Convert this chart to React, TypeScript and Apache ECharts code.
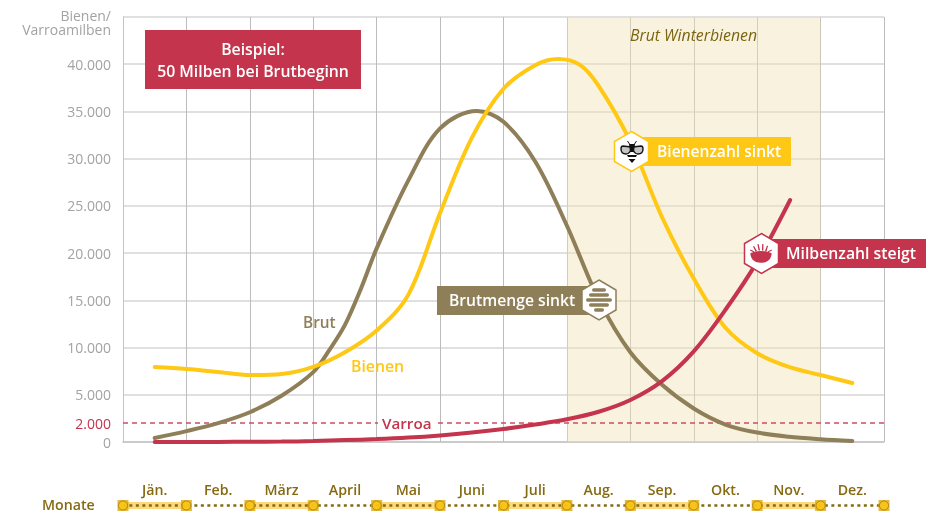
import React, { useEffect, useRef } from "react";
import * as echarts from "echarts";

const months = ["Jän.", "Feb.", "März", "April", "Mai", "Juni", "Juli", "Aug.", "Sep.", "Okt.", "Nov.", "Dez."];
const yTickLabels = ["0", "5.000", "10.000", "15.000", "20.000", "25.000", "30.000", "35.000", "40.000", ""];

// [month position, value]
const brut = [[0.5, 420], [1, 1150], [1.5, 2000], [2, 3150], [2.5, 4900], [3, 7400], [3.25, 9700], [3.5, 12400], [3.75, 16200], [4, 20500], [4.5, 27700], [5, 33200], [5.58, 35050], [6, 33900], [6.5, 29700], [7, 22900], [7.5, 15100], [8, 9500], [8.5, 6050], [9, 3550], [9.5, 1850], [10, 1000], [10.5, 560], [11, 300], [11.5, 110]];
const bienen = [[0.5, 7940], [1, 7730], [1.5, 7420], [2, 7090], [2.5, 7200], [3, 7950], [3.5, 9500], [4, 11800], [4.5, 15600], [5, 24246], [5.5, 32200], [6, 37400], [6.5, 39900], [6.86, 40560], [7.2, 39950], [7.5, 37700], [8, 31800], [8.5, 23800], [9, 17300], [9.5, 12100], [10, 9400], [10.5, 7950], [11, 7090], [11.5, 6250]];
const varroa = [[0.5, 0], [1, 0], [1.5, 10], [2, 20], [2.5, 40], [3, 100], [3.5, 200], [4, 310], [4.5, 470], [5, 700], [5.5, 1000], [6, 1380], [6.5, 1850], [7, 2400], [7.5, 3200], [8, 4450], [8.5, 6450], [9, 9600], [9.5, 14000], [10, 19100], [10.52, 25623]];
const monateMarks = [0, 1, 2, 3, 4, 5, 6, 7, 8, 9, 10, 11, 12];
const varroaLine = 2000;
const winterBand = [7, 11];

const RED = "#c4344c";
const BROWN = "#8f7f59";
const YELLOW = "#ffc815";
const DARK = "#866a12";
const FONT = "'Open Sans', sans-serif";
const SMOOTH = 0.34;

echarts.graphic.registerShape("beeWings", echarts.graphic.extendPath(
  "M-1 -4 L-9 -5 Q-11 -5 -11 -2 Q-11 3 -6 3 Q-3 3 -1 -1 Z M1 -4 L9 -5 Q11 -5 11 -2 Q11 3 6 3 Q3 3 1 -1 Z", {}));
echarts.graphic.registerShape("beeBody", echarts.graphic.extendPath(
  "M-3 -7 L3 -7 L2 1 L-2 1 Z M-5 4 L5 4 L4 6 L-4 6 Z M-3.5 8 L3.5 8 L0 12 Z M-2 -7 L-4 -10 L-5 -10 L-3 -7 Z M2 -7 L4 -10 L5 -10 L3 -7 Z", {}));
echarts.graphic.registerShape("miteIcon", echarts.graphic.extendPath(
  "M-10.5 -2 L-7 -3 Q0 -5 7 -3 L10.5 -2 Q11 4 5 7 Q0 8.5 -5 7 Q-11 4 -10.5 -2 Z M-7 -9 L-4 -4 L-5.5 -3.6 L-8 -8.4 Z M-2.4 -11 L-0.9 -4.6 L-2.4 -4.4 L-3.6 -10.8 Z M2.4 -11 L2.4 -4.4 L0.9 -4.6 L1.2 -11 Z M7 -9 L5.5 -3.6 L4 -4 L6 -9.4 Z M-10.5 -5.5 L-6.5 -3.6 L-7.5 -2.8 L-11 -4.5 Z M10.5 -5.5 L11 -4.5 L7.5 -2.8 L6.5 -3.6 Z", {}));

const hex = (cx: number, cy: number, color: string) => ({
  type: "polygon", z: 20,
  shape: { points: [[cx, cy - 20], [cx + 17, cy - 10], [cx + 17, cy + 10], [cx, cy + 20], [cx - 17, cy + 10], [cx - 17, cy - 10]] },
  style: { fill: "#fff", stroke: color, lineWidth: 1.5 },
});
const box = (x: number, y: number, width: number, height: number, fill: string) => ({
  type: "rect", z: 18, shape: { x, y, width, height }, style: { fill },
});
const txt = (text: string, x: number, y: number, fill: string, size = 15, extra: any = {}) => ({
  type: "text", z: 21, x, y,
  style: { text, fill, font: `${extra.fontStyle || ""} ${extra.weight || 600} ${size}px ${FONT}`, textAlign: extra.align || "left", textVerticalAlign: "middle", backgroundColor: extra.bg, padding: extra.pad, lineHeight: extra.lineHeight },
});
const comb = [[-7, 290], [-10, 295], [-13, 300], [-10, 305], [-5, 310]].map(([dx, y]) => ({
  type: "rect", z: 21, shape: { x: 599 + dx, y: y - 1.7, width: -2 * dx, height: 3.4, r: 1.7 }, style: { fill: BROWN },
}));

export default function App() {
  const ref = useRef<HTMLDivElement>(null);
  useEffect(() => {
    const chart = echarts.init(ref.current!, undefined, { renderer: "svg" });
    const bands = monateMarks.slice(0, 12).filter((m) => m % 2 === 0).map((m) => [{ xAxis: m }, { xAxis: m + 1 }]);
    chart.setOption({
      animation: false,
      grid: [
        { left: 123, top: 17, width: 761, height: 425, containLabel: false },
        { left: 123, top: 502, width: 761, height: 7 },
      ],
      xAxis: [
        {
          type: "category", gridIndex: 0, data: months, boundaryGap: true,
          axisLine: { lineStyle: { color: "#c4c4c4", width: 1.5 } }, axisTick: { show: false },
          axisLabel: { interval: 0, margin: 40, color: DARK, fontFamily: FONT, fontWeight: 600, fontSize: 14.2 },
          splitLine: { show: true, interval: 0, lineStyle: { color: "#bcbcbc", width: 1 } },
        },
        { type: "value", gridIndex: 0, min: 0, max: 12, show: false },
        { type: "value", gridIndex: 1, min: 0, max: 12, show: false },
      ],
      yAxis: [
        {
          type: "value", gridIndex: 0, min: 0, max: 45000, interval: 5000,
          axisLine: { show: true, lineStyle: { color: "#c4c4c4", width: 1 } }, axisTick: { show: false },
          axisLabel: { margin: 12, color: "#a3a3a3", fontFamily: FONT, fontSize: 14, formatter: (v: number) => yTickLabels[v / 5000] },
          splitLine: { lineStyle: { color: "#d6d6d6", width: 1.5 } },
        },
        { type: "value", gridIndex: 1, min: 0, max: 1, show: false },
      ],
      series: [
        {
          name: "Brut", type: "line", xAxisIndex: 1, yAxisIndex: 0, data: brut, smooth: SMOOTH, symbol: "none",
          lineStyle: { color: BROWN, width: 4, cap: "round" }, z: 5,
          markArea: { silent: true, itemStyle: { color: "rgba(242,226,182,0.45)" }, data: [[{ xAxis: winterBand[0] }, { xAxis: winterBand[1] }]] },
        },
        {
          name: "Bienen", type: "line", xAxisIndex: 1, yAxisIndex: 0, data: bienen, smooth: SMOOTH, symbol: "none",
          lineStyle: { color: YELLOW, width: 4, cap: "round" }, z: 6,
        },
        {
          name: "Varroa", type: "line", xAxisIndex: 1, yAxisIndex: 0, data: varroa, smooth: SMOOTH, symbol: "none",
          lineStyle: { color: RED, width: 4, cap: "round" }, z: 7,
          markLine: {
            silent: true, symbol: "none",
            lineStyle: { color: "#cc4c62", type: [5, 4], width: 1.5, opacity: 1 },
            label: { position: "start", distance: 12, formatter: "2.000", color: RED, fontFamily: FONT, fontSize: 14 },
            data: [{ yAxis: varroaLine }],
          },
        },
        {
          name: "MonateBand", type: "line", xAxisIndex: 2, yAxisIndex: 1, data: [], symbol: "none",
          markArea: { silent: true, itemStyle: { color: "#fdd97e" }, data: bands },
        },
        {
          name: "MonateLine", type: "line", xAxisIndex: 2, yAxisIndex: 1, clip: false, symbol: "none",
          data: [[-0.31, 0.5], [12, 0.5]],
          lineStyle: { color: DARK, width: 2.5, type: [3, 3.5] }, z: 3,
        },
        {
          name: "MonateSq", type: "scatter", xAxisIndex: 2, yAxisIndex: 1, clip: false, symbol: "rect", symbolSize: 11,
          data: monateMarks.map((m) => [m, 0.5]), itemStyle: { color: "#dca90f" }, z: 4,
        },
        {
          name: "MonateDot", type: "scatter", xAxisIndex: 2, yAxisIndex: 1, clip: false, symbol: "circle", symbolSize: 9,
          data: monateMarks.map((m) => [m, 0.5]), itemStyle: { color: YELLOW, borderColor: DARK, borderWidth: 0.8 }, z: 5,
        },
      ],
      graphic: [
        txt("Bienen/\nVarroamilben", 111, 22, "#a3a3a3", 14, { weight: 400, align: "right", lineHeight: 14 }),
        box(145, 30, 216, 59, RED),
        txt("Beispiel:", 253, 49, "#fff", 15.8, { align: "center" }),
        txt("50 Milben bei Brutbeginn", 253, 71, "#fff", 15.8, { align: "center" }),
        txt("Brut Winterbienen", 693.5, 35, "#7a6410", 15.8, { weight: 400, fontStyle: "italic", align: "center" }),
        txt("Brut", 303, 322, BROWN, 15.4),
        txt("Bienen", 351, 366, YELLOW, 15.8),
        txt("Varroa", 378, 423, RED, 15.2, { bg: "#fff", pad: [0, 4], lineHeight: 14 }),
        txt("Monate", 42, 504, DARK, 14.2),
        box(632, 137, 159, 29, YELLOW),
        hex(631.5, 151.5, YELLOW),
        txt("Bienenzahl sinkt", 657, 151, "#fff", 15.6),
        { type: "beeWings", z: 21, x: 632, y: 151, style: { fill: "#c4c4c4", stroke: "#111", lineWidth: 1.4 } },
        { type: "beeBody", z: 22, x: 632, y: 151, style: { fill: "#111" } },
        box(762, 239, 164, 29, RED),
        hex(761.5, 253.5, RED),
        txt("Milbenzahl steigt", 786, 253, "#fff", 15.8),
        { type: "miteIcon", z: 21, x: 761, y: 255, style: { fill: RED } },
        box(437, 286, 160, 29, BROWN),
        hex(599, 300, BROWN),
        txt("Brutmenge sinkt", 449, 300, "#fff", 15.7),
        ...comb,
      ],
    });
    return () => chart.dispose();
  }, []);
  return <div ref={ref} style={{ width: 937, height: 513, position: "fixed", left: 0, top: 0 }} />;
}
